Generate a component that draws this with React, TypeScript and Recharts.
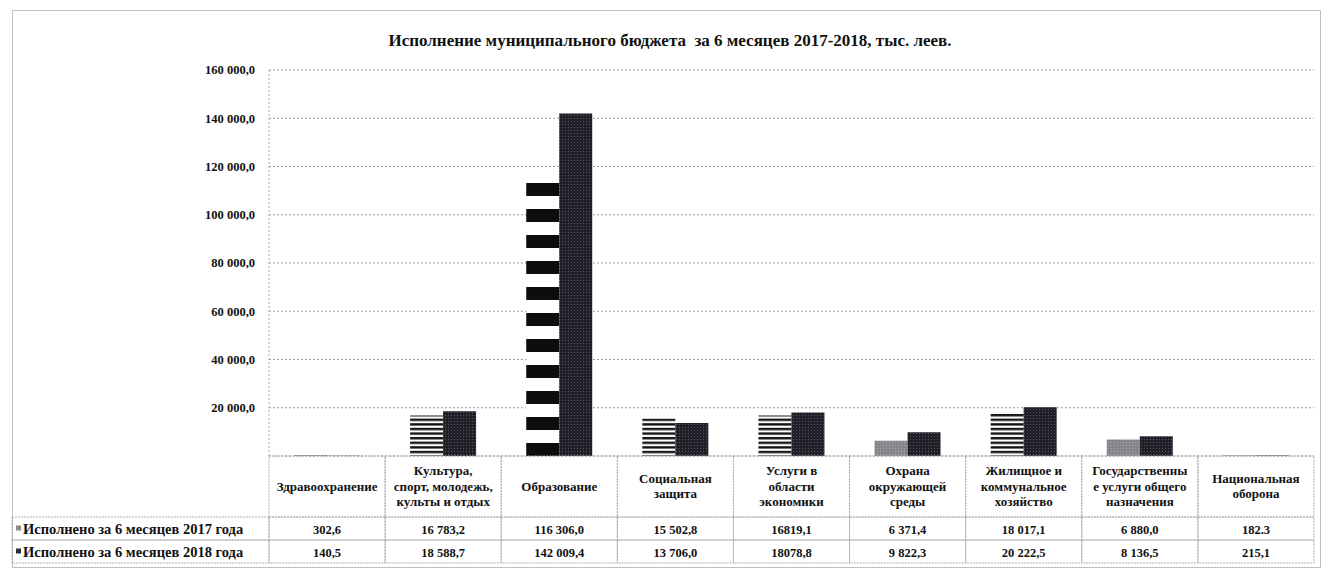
import React from 'react';
import { BarChart, Bar, XAxis, YAxis, CartesianGrid, Cell } from 'recharts';

const categories = [
  'Здравоохранение',
  'Культура,\nспорт, молодежь,\nкульты и отдых',
  'Образование',
  'Социальная\nзащита',
  'Услуги в\nобласти\nэкономики',
  'Охрана\nокружающей\nсреды',
  'Жилищное и\nкоммунальное\nхозяйство',
  'Государственны\nе услуги общего\nназначения',
  'Национальная\nоборона',
];
const values2017 = [302.6, 16783.2, 116306.0, 15502.8, 16819.1, 6371.4, 18017.1, 6880.0, 182.3];
const values2018 = [140.5, 18588.7, 142009.4, 13706.0, 18078.8, 9822.3, 20222.5, 8136.5, 215.1];
const labels2017 = ['302,6', '16 783,2', '116 306,0', '15 502,8', '16819,1', '6 371,4', '18 017,1', '6 880,0', '182.3'];
const labels2018 = ['140,5', '18 588,7', '142 009,4', '13 706,0', '18078,8', '9 822,3', '20 222,5', '8 136,5', '215,1'];
const seriesNames = ['Исполнено за 6 месяцев 2017 года', 'Исполнено за 6 месяцев 2018 года'];
const yTicks = [0, 20000, 40000, 60000, 80000, 100000, 120000, 140000, 160000];
const title = 'Исполнение муниципального бюджета  за 6 месяцев 2017-2018, тыс. леев.';

const data = categories.map((name, i) => ({
  name,
  v2017: values2017[i],
  v2018: values2018[i],
}));

// layout constants
const WIDTH = 1326;
const HEIGHT = 572;
const M_TOP = 70;
const M_RIGHT = 12;
const Y_W = 269;
const X_H = 116;
const CELL_W = (WIDTH - M_RIGHT - Y_W) / categories.length;
const HEAD_H = 61;
const ROW_H = 23;
const FONT = '"Liberation Serif", "Times New Roman", serif';
const BORDER = '#b0b0b0';

const fill2017 = (i: number) => {
  if (i === 2) return 'url(#bands2017)';
  if (i === 5 || i === 7) return 'url(#gray2017)';
  return 'url(#stripes2017)';
};

const fmtY = (v: number) => {
  if (v === 0) return '';
  const s = String(Math.round(v)).replace(/\B(?=(\d{3})+(?!\d))/g, ' ');
  return s + ',0';
};

const TableTick = (props: any) => {
  const { x, y, payload, index } = props;
  const i = typeof index === 'number' ? index : payload.index;
  const left = x - CELL_W / 2;
  const lines = String(payload.value).split('\n');
  const lh = 15.5;
  const startY = y + HEAD_H / 2 - ((lines.length - 1) * lh) / 2 + 4;
  const cellStyle = { fill: 'none', stroke: BORDER, strokeWidth: 1, strokeDasharray: '2 1' };
  const textStyle: any = { fontFamily: FONT, fontWeight: 'bold', fontSize: 12.5, fill: '#111' };
  const legendLeft = 12;
  return (
    <g>
      <rect x={left} y={y} width={CELL_W} height={HEAD_H} {...cellStyle} />
      <rect x={left} y={y + HEAD_H} width={CELL_W} height={ROW_H} {...cellStyle} />
      <rect x={left} y={y + HEAD_H + ROW_H} width={CELL_W} height={ROW_H} {...cellStyle} />
      {lines.map((ln, k) => (
        <text key={k} x={x} y={startY + k * lh} textAnchor="middle" style={{ ...textStyle, fontSize: 13 }}>
          {ln}
        </text>
      ))}
      <text x={x} y={y + HEAD_H + ROW_H / 2 + 5} textAnchor="middle" style={textStyle}>
        {labels2017[i]}
      </text>
      <text x={x} y={y + HEAD_H + ROW_H + ROW_H / 2 + 5} textAnchor="middle" style={textStyle}>
        {labels2018[i]}
      </text>
      {i === 0 && (
        <g>
          <rect x={legendLeft} y={y + HEAD_H} width={left - legendLeft} height={ROW_H} {...cellStyle} />
          <rect x={legendLeft} y={y + HEAD_H + ROW_H} width={left - legendLeft} height={ROW_H} {...cellStyle} />
          <rect x={legendLeft + 4} y={y + HEAD_H + ROW_H / 2 - 3} width={5} height={5} fill="#8a8a8a" />
          <rect x={legendLeft + 4} y={y + HEAD_H + ROW_H + ROW_H / 2 - 3} width={5} height={5} fill="#2c2c34" />
          <text x={legendLeft + 11} y={y + HEAD_H + ROW_H / 2 + 5} style={{ ...textStyle, fontSize: 14.5 }}>
            {seriesNames[0]}
          </text>
          <text x={legendLeft + 11} y={y + HEAD_H + ROW_H + ROW_H / 2 + 5} style={{ ...textStyle, fontSize: 14.5 }}>
            {seriesNames[1]}
          </text>
        </g>
      )}
    </g>
  );
};

export default function App() {
  return (
    <div style={{ position: 'absolute', left: 0, top: 0, width: WIDTH, height: HEIGHT, background: '#fff', overflow: 'hidden' }}>
      <svg width={0} height={0} style={{ position: 'absolute' }}>
        <defs>
          <pattern id="stripes2017" patternUnits="userSpaceOnUse" width={6} height={4.6}>
            <rect x={0} y={0} width={6} height={4.6} fill="#ffffff" />
            <rect x={0} y={0} width={6} height={2.4} fill="#151515" />
          </pattern>
          <pattern id="bands2017" patternUnits="userSpaceOnUse" width={6} height={26} y={1}>
            <rect x={0} y={0} width={6} height={26} fill="#ffffff" />
            <rect x={0} y={0} width={6} height={13} fill="#0d0d0d" />
          </pattern>
          <pattern id="gray2017" patternUnits="userSpaceOnUse" width={3} height={3}>
            <rect x={0} y={0} width={3} height={3} fill="#85858c" />
            <rect x={1} y={1} width={1} height={1} fill="#a8a8ae" />
          </pattern>
          <pattern id="dark2018" patternUnits="userSpaceOnUse" width={3} height={3}>
            <rect x={0} y={0} width={3} height={3} fill="#202028" />
            <rect x={1} y={1} width={1} height={1} fill="#55555f" />
          </pattern>
        </defs>
      </svg>
      <div
        style={{
          position: 'absolute',
          left: 12,
          top: 10,
          width: 1309,
          height: 558,
          border: '1px solid #c0c0c0',
          boxSizing: 'border-box',
        }}
      />
      <div
        style={{
          position: 'absolute',
          left: 0,
          top: 31,
          width: 1340,
          textAlign: 'center',
          fontFamily: FONT,
          fontWeight: 'bold',
          fontSize: 17,
          color: '#111',
          whiteSpace: 'pre',
        }}
      >
        {title}
      </div>
      <div style={{ position: 'absolute', left: 0, top: 0 }}>
        <BarChart
          width={WIDTH}
          height={HEIGHT}
          data={data}
          margin={{ top: M_TOP, right: M_RIGHT, bottom: 0, left: 0 }}
          barSize={33}
          barGap={0}
        >
          <CartesianGrid vertical={false} stroke="#9a9a9a" strokeDasharray="2 2" />
          <YAxis
            width={Y_W}
            domain={[0, 160000]}
            ticks={yTicks}
            tickFormatter={fmtY}
            tickLine={false}
            axisLine={{ stroke: '#aaaaaa', strokeDasharray: '2 2' }}
            tickMargin={8}
            tick={{ fontFamily: FONT, fontWeight: 'bold', fontSize: 12.5, fill: '#111' }}
            interval={0}
          />
          <XAxis
            dataKey="name"
            height={X_H}
            interval={0}
            tickLine={false}
            axisLine={false}
            tickSize={0}
            tickMargin={0}
            tick={<TableTick />}
          />
          <Bar dataKey="v2017" name={seriesNames[0]} isAnimationActive={false}>
            {data.map((d, i) => (
              <Cell key={i} fill={fill2017(i)} />
            ))}
          </Bar>
          <Bar dataKey="v2018" name={seriesNames[1]} fill="url(#dark2018)" isAnimationActive={false} />
        </BarChart>
      </div>
    </div>
  );
}
